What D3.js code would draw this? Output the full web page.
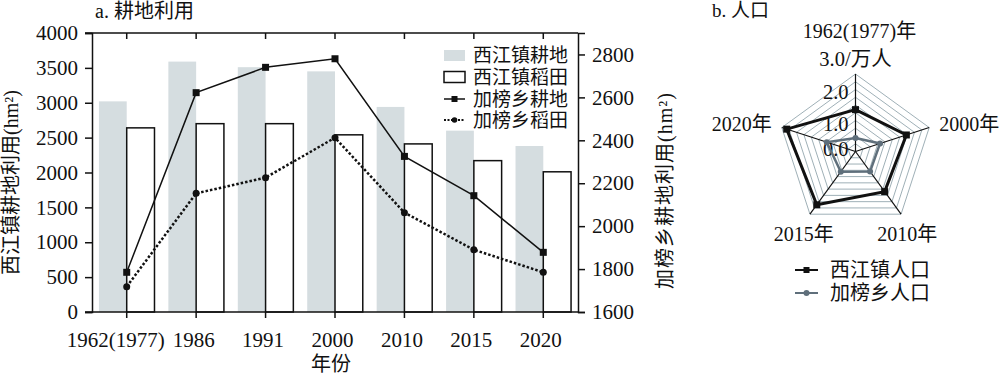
<!DOCTYPE html>
<html><head><meta charset="utf-8">
<script src="https://cdn.jsdelivr.net/npm/d3@7"></script>
<style>
body{margin:0;background:#fff;}
svg text{font-family:"Liberation Serif","Noto Sans CJK SC",serif;fill:#111;}
</style></head>
<body><svg id="c" width="1000" height="378"></svg>
<script>
// ---------- data ----------
const years = ["1962(1977)","1986","1991","2000","2010","2015","2020"];
const xjCultivated = [3020,3590,3510,3450,2940,2600,2380];   // 西江镇耕地 (left axis)
const xjPaddy      = [2640,2700,2700,2540,2410,2170,2010];   // 西江镇稻田 (left axis)
const jbCultivated = [1785,2622,2740,2780,2325,2142,1878];   // 加榜乡耕地 (right axis)
const jbPaddy      = [1718,2153,2226,2412,2063,1890,1785];   // 加榜乡稻田 (right axis)
const leftTicks  = [0,500,1000,1500,2000,2500,3000,3500,4000];
const rightTicks = [1600,1800,2000,2200,2400,2600,2800];

const radarCats = ["1962(1977)年","2000年","2010年","2015年","2020年"];
const xjPop = [1.62,2.07,1.92,2.55,2.8];   // 西江镇人口 (万人)
const jbPop = [0.52,1.0,0.96,0.97,1.17];   // 加榜乡人口
const radarLabels = [0,1,2,3];
const ringStep = 0.3;

const svg = d3.select("#c");
const GRAY = "#d5dde0";

// ---------- left chart ----------
const L = 92, R = 578, T = 33, B = 312;
const x = d3.scaleBand().domain(years).range([L, R]).padding(0);
const yL = d3.scaleLinear().domain([0,4000]).range([B,T]);
const yR = d3.scaleLinear().domain([1600,2900]).range([B,T]);
const bw = x.step()*0.4;
const cx = d => x(d) + x.bandwidth()/2;

// bars
svg.append("g").selectAll("rect").data(years).join("rect")
  .attr("x", (d)=>cx(d)-bw).attr("width", bw)
  .attr("y", (d,i)=>yL(xjCultivated[i])).attr("height",(d,i)=>B-yL(xjCultivated[i]))
  .attr("fill", GRAY);
svg.append("g").selectAll("rect").data(years).join("rect")
  .attr("x", (d)=>cx(d)).attr("width", bw)
  .attr("y", (d,i)=>yL(xjPaddy[i])).attr("height",(d,i)=>B-yL(xjPaddy[i]))
  .attr("fill", "#fff").attr("stroke","#111").attr("stroke-width",1.5);

// axes
const fs = 21;
const gl = svg.append("g").attr("transform",`translate(${L},0)`)
  .call(d3.axisLeft(yL).tickValues(leftTicks).tickSize(7).tickPadding(7).tickFormat(d3.format("d")));
const gr = svg.append("g").attr("transform",`translate(${R},0)`)
  .call(d3.axisRight(yR).tickValues(rightTicks).tickSize(7).tickPadding(7).tickFormat(d3.format("d")));
const gb = svg.append("g").attr("transform",`translate(0,${B})`)
  .call(d3.axisBottom(x).tickSize(6).tickPadding(14));
const gt = svg.append("g").attr("transform",`translate(0,${T})`)
  .call(d3.axisBottom(x).tickSize(6).tickFormat(""));
[gl,gr,gb,gt].forEach(g=>{
  g.selectAll("path.domain").attr("stroke","#111").attr("stroke-width",1.5);
  g.selectAll("line").attr("stroke","#111").attr("stroke-width",1.5);
  g.selectAll("text").attr("font-size",fs).attr("font-family",null).style("fill","#111");
});
gb.selectAll(".tick text").attr("dx",(d,i)=> i===0 ? -11 : -2.5);
gt.select("path.domain").attr("d",`M${L-7},0H${R}`);
gb.select("path.domain").attr("d",`M${L-7},0H${R}`);

// lines
const lineR = d3.line().x((d,i)=>cx(years[i])).y(d=>yR(d));
svg.append("path").attr("d",lineR(jbCultivated)).attr("fill","none").attr("stroke","#111").attr("stroke-width",1.5);
svg.append("path").attr("d",lineR(jbPaddy)).attr("fill","none").attr("stroke","#111").attr("stroke-width",2.5).attr("stroke-dasharray","2.5,2");
svg.append("g").selectAll("rect").data(jbCultivated).join("rect")
  .attr("x",(d,i)=>cx(years[i])-3.5).attr("y",d=>yR(d)-3.5).attr("width",7).attr("height",7).attr("fill","#111");
svg.append("g").selectAll("circle").data(jbPaddy).join("circle")
  .attr("cx",(d,i)=>cx(years[i])).attr("cy",d=>yR(d)).attr("r",3.5).attr("fill","#111");

// legend
const lg = svg.append("g").attr("transform","translate(444,0)");
const rows = [55.5,77,99,120];
const legNames = ["西江镇耕地","西江镇稻田","加榜乡耕地","加榜乡稻田"];
lg.append("rect").attr("x",0).attr("y",rows[0]-5.5).attr("width",21).attr("height",11).attr("fill",GRAY);
lg.append("rect").attr("x",0).attr("y",rows[1]-5.5).attr("width",21).attr("height",11).attr("fill","#fff").attr("stroke","#111").attr("stroke-width",1.5);
lg.append("line").attr("x1",0).attr("x2",21).attr("y1",rows[2]).attr("y2",rows[2]).attr("stroke","#111").attr("stroke-width",1.5);
lg.append("rect").attr("x",7.5).attr("y",rows[2]-3).attr("width",6).attr("height",6).attr("fill","#111");
lg.append("line").attr("x1",0).attr("x2",21).attr("y1",rows[3]).attr("y2",rows[3]).attr("stroke","#111").attr("stroke-width",2).attr("stroke-dasharray","2,1.5");
lg.append("circle").attr("cx",10.5).attr("cy",rows[3]).attr("r",2.8).attr("fill","#111");
lg.selectAll("text.l").data(legNames).join("text").attr("class","l")
  .attr("x",29).attr("y",(d,i)=>rows[i]).attr("dy","0.36em").attr("font-size",19).text(d=>d);

// titles / axis labels
svg.append("text").attr("x",95).attr("y",18).attr("font-size",20).text("a. 耕地利用");
svg.append("text").attr("transform",`translate(18,${(T+B)/2+10}) rotate(-90)`).attr("text-anchor","middle")
  .attr("font-size",20).text("西江镇耕地利用(hm²)");
svg.append("text").attr("transform",`translate(672,${(T+B)/2+18}) rotate(-90)`).attr("text-anchor","middle")
  .attr("font-size",20).attr("letter-spacing",1).text("加榜乡耕地利用(hm²)");
svg.append("text").attr("x",(L+R)/2-4).attr("y",371).attr("text-anchor","middle").attr("font-size",20).text("年份");

// ---------- radar ----------
const rc = {x:855.5, y:151.5};
const rS = d3.scaleLinear().domain([0,3]).range([0,77.5]);
const ang = i => i*2*Math.PI/radarCats.length;
const pt = (v,i)=>[rc.x + rS(v)*Math.sin(ang(i)), rc.y - rS(v)*Math.cos(ang(i))];
const rg = svg.append("g");
const rings = d3.range(1, Math.round(3/ringStep)+1).map(k=>k*ringStep);
rg.selectAll("path.ring").data(rings).join("path").attr("class","ring")
  .attr("d",v=>"M"+radarCats.map((c,i)=>pt(v,i).join(",")).join("L")+"Z")
  .attr("fill","none").attr("stroke","#9fb0b7").attr("stroke-width",1);
rg.selectAll("line.spoke").data(radarCats).join("line").attr("class","spoke")
  .attr("x1",rc.x).attr("y1",rc.y).attr("x2",(d,i)=>pt(3,i)[0]).attr("y2",(d,i)=>pt(3,i)[1])
  .attr("stroke","#111").attr("stroke-width",1.2);

// value labels
const lblDy = [4,5,-1,-8];
rg.selectAll("text.v").data(radarLabels).join("text").attr("class","v")
  .attr("x",(d)=> d===3 ? rc.x : rc.x-7).attr("y",(d,i)=>rc.y - rS(d) + lblDy[i])
  .attr("text-anchor",d=> d===3 ? "middle":"end").attr("font-size",20.5)
  .text(d=> d===3 ? d3.format(".1f")(d)+"/万人" : d3.format(".1f")(d));

// category labels
rg.selectAll("text.c").data(radarCats).join("text").attr("class","c")
  .attr("x",(d,i)=> i===0 ? rc.x+4 : rc.x + 88*Math.sin(ang(i)))
  .attr("y",(d,i)=> i===0 ? rc.y - rS(3) - 36 : rc.y - 88*Math.cos(ang(i)))
  .attr("dy",(d,i)=> i===0 ? 0 : (Math.cos(ang(i))<-0.5 ? "0.9em" : "0.35em"))
  .attr("text-anchor",(d,i)=>{const s=Math.sin(ang(i)); return Math.abs(s)<0.7 ? "middle" : (s>0?"start":"end");})
  .attr("font-size",20).text(d=>d);

const rLine = d3.line().x(d=>d[0]).y(d=>d[1]).curve(d3.curveLinearClosed);
const jbPts = jbPop.map(pt), xjPts = xjPop.map(pt);
rg.append("path").attr("d",rLine(jbPts)).attr("fill","none").attr("stroke","#5f6f7b").attr("stroke-width",2.5);
rg.selectAll("circle.jb").data(jbPts).join("circle").attr("class","jb")
  .attr("cx",d=>d[0]).attr("cy",d=>d[1]).attr("r",3).attr("fill","#5f6f7b");
rg.append("path").attr("d",rLine(xjPts)).attr("fill","none").attr("stroke","#111").attr("stroke-width",3);
rg.selectAll("rect.xj").data(xjPts).join("rect").attr("class","xj")
  .attr("x",d=>d[0]-3.5).attr("y",d=>d[1]-3.5).attr("width",7).attr("height",7).attr("fill","#111");

svg.append("text").attr("x",712).attr("y",17).attr("font-size",19).text("b. 人口");

// radar legend
const rl = svg.append("g").attr("transform","translate(795,0)");
const rlRows = [270,293];
rl.append("line").attr("x1",0).attr("x2",23).attr("y1",rlRows[0]).attr("y2",rlRows[0]).attr("stroke","#111").attr("stroke-width",2);
rl.append("rect").attr("x",8.5).attr("y",rlRows[0]-3).attr("width",6).attr("height",6).attr("fill","#111");
rl.append("line").attr("x1",0).attr("x2",23).attr("y1",rlRows[1]).attr("y2",rlRows[1]).attr("stroke","#5f6f7b").attr("stroke-width",2);
rl.append("circle").attr("cx",11.5).attr("cy",rlRows[1]).attr("r",3).attr("fill","#5f6f7b");
rl.selectAll("text").data(["西江镇人口","加榜乡人口"]).join("text")
  .attr("x",35).attr("y",(d,i)=>rlRows[i]).attr("dy","0.36em").attr("font-size",20).text(d=>d);
</script></body></html>
